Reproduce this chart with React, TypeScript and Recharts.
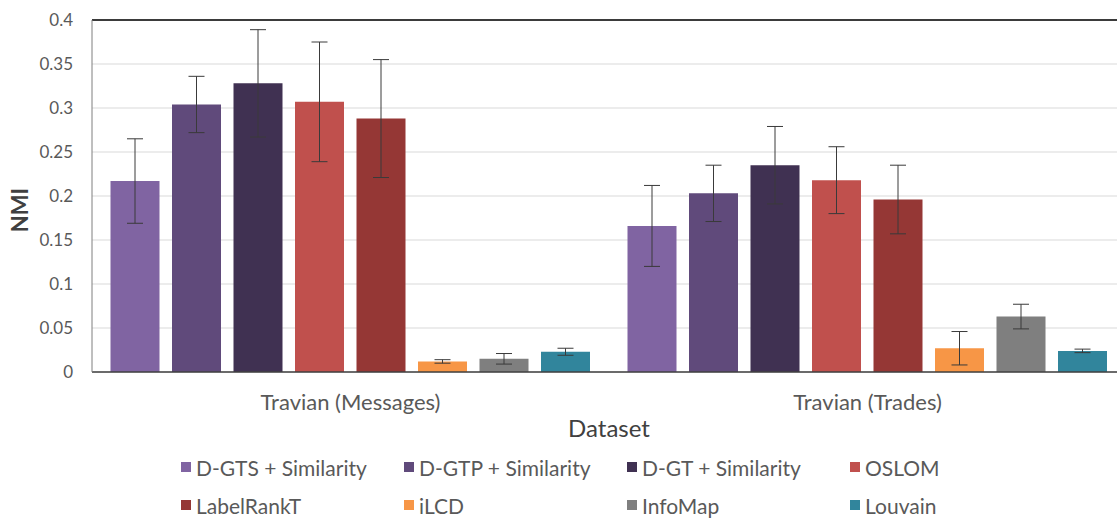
import React from 'react';
import {
  BarChart,
  Bar,
  XAxis,
  YAxis,
  CartesianGrid,
  ErrorBar,
  Legend,
  ReferenceLine,
} from 'recharts';

const categories = ['Travian (Messages)', 'Travian (Trades)'];

const seriesNames = [
  'D-GTS + Similarity',
  'D-GTP + Similarity',
  'D-GT + Similarity',
  'OSLOM',
  'LabelRankT',
  'iLCD',
  'InfoMap',
  'Louvain',
];
const seriesKeys = ['dgts', 'dgtp', 'dgt', 'oslom', 'labelRankT', 'ilcd', 'infoMap', 'louvain'];
const COLORS = ['#8064a2', '#604a7b', '#403152', '#c0504d', '#953735', '#f79646', '#7f7f7f', '#31859c'];

// NMI means per dataset (Messages, Trades)
const dgts = [0.217, 0.166];
const dgtp = [0.304, 0.203];
const dgt = [0.328, 0.235];
const oslom = [0.307, 0.218];
const labelRankT = [0.288, 0.196];
const ilcd = [0.012, 0.027];
const infoMap = [0.015, 0.063];
const louvain = [0.023, 0.024];

// error bar half-widths
const dgtsErr = [0.048, 0.046];
const dgtpErr = [0.032, 0.032];
const dgtErr = [0.061, 0.044];
const oslomErr = [0.068, 0.038];
const labelRankTErr = [0.067, 0.039];
const ilcdErr = [0.002, 0.019];
const infoMapErr = [0.006, 0.014];
const louvainErr = [0.004, 0.002];

const yTicks = [0, 0.05, 0.1, 0.15, 0.2, 0.25, 0.3, 0.35, 0.4];

const values = [dgts, dgtp, dgt, oslom, labelRankT, ilcd, infoMap, louvain];
const errors = [dgtsErr, dgtpErr, dgtErr, oslomErr, labelRankTErr, ilcdErr, infoMapErr, louvainErr];

const data = categories.map((category, i) => {
  const row: Record<string, string | number> = { category };
  seriesKeys.forEach((key, s) => {
    row[key] = values[s][i];
    row[`${key}Err`] = errors[s][i];
  });
  return row;
});

const FONT = 'Lato, "Open Sans", sans-serif';
const TEXT = '#595959';

const renderLegend = () => (
  <div style={{ position: 'relative', width: 1126, height: 80, fontFamily: FONT }}>
    {seriesNames.map((name, i) => (
      <div
        key={name}
        style={{
          position: 'absolute',
          left: 181 + (i % 4) * 223,
          top: 7 + Math.floor(i / 4) * 38,
          height: 26,
          display: 'flex',
          alignItems: 'center',
          fontSize: 21,
          color: TEXT,
          whiteSpace: 'nowrap',
        }}
      >
        <span style={{ width: 10, height: 10, background: COLORS[i], marginRight: 5, display: 'inline-block' }} />
        {name}
      </div>
    ))}
  </div>
);

const NmiLabel = (props: any) => {
  const { viewBox } = props;
  const cx = 19;
  const cy = viewBox.y + viewBox.height / 2 + 14;
  return (
    <text
      x={cx}
      y={cy}
      transform={`rotate(-90, ${cx}, ${cy})`}
      textAnchor="middle"
      dominantBaseline="central"
      fontFamily={FONT}
      fontSize={22}
      fontWeight={700}
      fill="#404040"
    >
      NMI
    </text>
  );
};

const App: React.FC = () => {
  return (
    <div
      style={{
        position: 'fixed',
        left: 0,
        top: 0,
        width: 1117,
        height: 521,
        overflow: 'hidden',
        background: '#fff',
      }}
    >
      <BarChart
        width={1126}
        height={527}
        data={data}
        margin={{ top: 20, right: 0, left: 0, bottom: 0 }}
        barCategoryGap={18.5}
        barGap={12.5}
      >
        <CartesianGrid vertical={false} stroke="#d9d9d9" />
        <XAxis
          dataKey="category"
          height={75}
          tickLine={false}
          tickSize={0}
          tickMargin={22}
          axisLine={{ stroke: '#404040', strokeWidth: 1.5 }}
          tick={{ fill: TEXT, fontSize: 22, fontFamily: FONT }}
          label={{
            value: 'Dataset',
            position: 'insideBottom',
            offset: 10,
            fill: '#404040',
            fontSize: 24,
            fontFamily: FONT,
          }}
        />
        <YAxis
          width={92}
          domain={[0, 0.4]}
          ticks={yTicks}
          tickLine={false}
          tickSize={0}
          tickMargin={19}
          axisLine={{ stroke: '#7f7f7f' }}
          tick={{ fill: TEXT, fontSize: 17, fontFamily: FONT }}
          label={<NmiLabel />}
        />
        <ReferenceLine y={0.4} stroke="#000" strokeWidth={1.5} />
        {seriesKeys.map((key, i) => (
          <Bar key={key} dataKey={key} name={seriesNames[i]} fill={COLORS[i]} isAnimationActive={false}>
            <ErrorBar dataKey={`${key}Err`} width={8} stroke="#3a3a3a" strokeWidth={1} />
          </Bar>
        ))}
        <Legend verticalAlign="bottom" align="left" height={80} content={renderLegend} />
      </BarChart>
    </div>
  );
};

export default App;
